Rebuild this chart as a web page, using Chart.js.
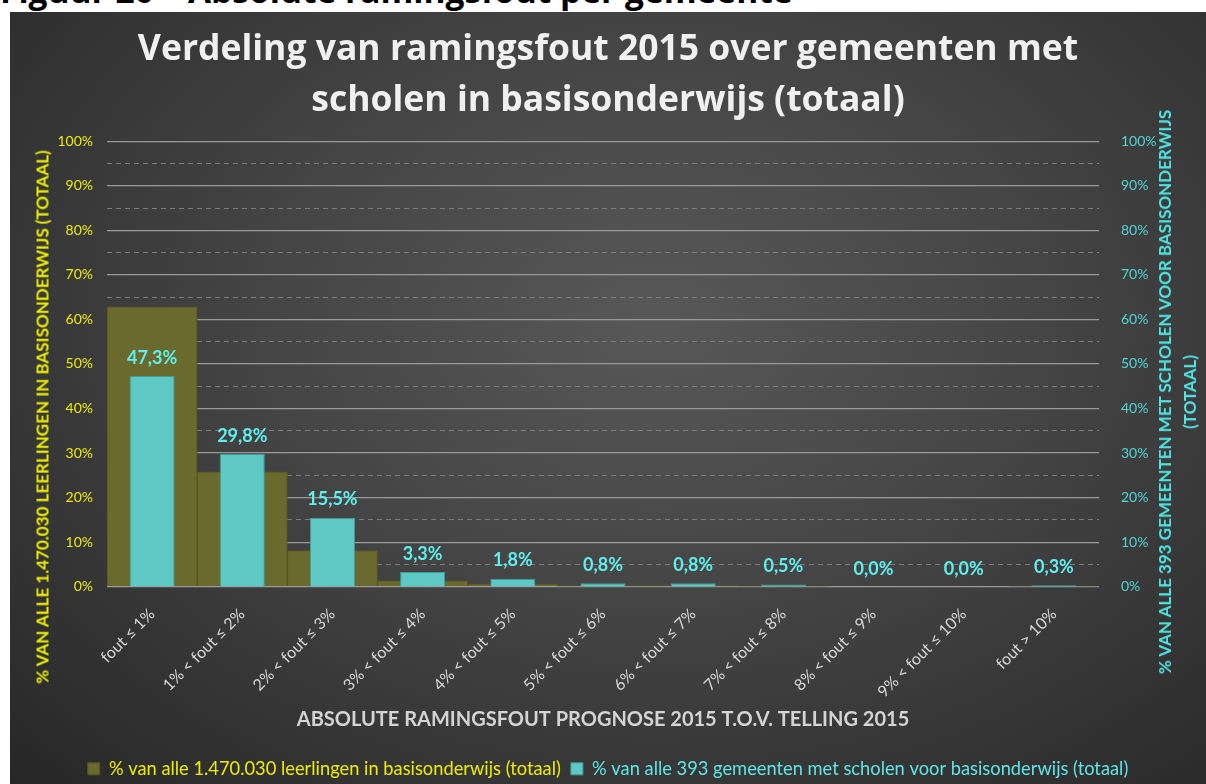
<!DOCTYPE html>
<html>
<head>
<meta charset="utf-8">
<script src="https://cdn.jsdelivr.net/npm/chart.js@4.4.1/dist/chart.umd.min.js"></script>
<style>
  body { margin: 0; background: #fff; width: 1206px; height: 784px; overflow: hidden; position: relative; }
  #fig { position: absolute; left: 0; top: -26px; font: bold 33.5px/33px "Open Sans", sans-serif; color: #000; white-space: nowrap; }
  #panel { position: absolute; left: 10px; top: 12px; width: 1196px; height: 772px; overflow: hidden;
    background: radial-gradient(ellipse farthest-corner at 54% 40%, #585858 0%, #454545 42%, #272727 100%); }
  .axis-title { position: absolute; font: bold 17px/25px Lato, sans-serif; text-align: center; white-space: nowrap;
    transform: translate(-50%, -50%) rotate(-90deg); }
  #ytitle-left { left: 42px; top: 417px; color: #ecec00; }
  #ytitle-right { left: 1177px; top: 392px; color: #4fe3e3; }
</style>
</head>
<body>
<div id="fig">Figuur 20 – Absolute ramingsfout per gemeente</div>
<div id="panel"><canvas id="chart" width="1196" height="772"></canvas></div>
<div class="axis-title" id="ytitle-left">% VAN ALLE 1.470.030 LEERLINGEN IN BASISONDERWIJS (TOTAAL)</div>
<div class="axis-title" id="ytitle-right">% VAN ALLE 393 GEMEENTEN MET SCHOLEN VOOR BASISONDERWIJS<br>(TOTAAL)</div>
<script>
var categories = ['fout ≤ 1%', '1% < fout ≤ 2%', '2% < fout ≤ 3%', '3% < fout ≤ 4%', '4% < fout ≤ 5%',
  '5% < fout ≤ 6%', '6% < fout ≤ 7%', '7% < fout ≤ 8%', '8% < fout ≤ 9%', '9% < fout ≤ 10%', 'fout > 10%'];
// % van alle leerlingen (olive, left axis)
var leerlingen = [62.8, 25.8, 8.1, 1.3, 0.6, 0.2, 0.2, 0.1, 0.0, 0.0, 0.1];
// % van alle gemeenten (cyan, right axis)
var gemeenten = [47.3, 29.8, 15.5, 3.3, 1.8, 0.8, 0.8, 0.5, 0.0, 0.0, 0.3];
var titleLines = ['Verdeling van ramingsfout 2015 over gemeenten met', 'scholen in basisonderwijs (totaal)'];
var legendLabels = ['% van alle 1.470.030 leerlingen in basisonderwijs (totaal)',
  '% van alle 393 gemeenten met scholen voor basisonderwijs (totaal)'];
var legendColors = ['#ecec00', '#5fe6e6'];

function pct(v) { return v.toFixed(1).replace('.', ',') + '%'; }

var valueLabels = {
  id: 'valueLabels',
  afterDatasetsDraw: function(chart) {
    var ctx = chart.ctx;
    var meta = chart.getDatasetMeta(1);
    ctx.save();
    ctx.font = 'bold 18px Lato, sans-serif';
    ctx.fillStyle = '#5ff0ee';
    ctx.textAlign = 'center';
    ctx.textBaseline = 'middle';
    meta.data.forEach(function(bar, i) {
      ctx.fillText(pct(gemeenten[i]), bar.x, bar.y - 18);
    });
    ctx.restore();
  }
};

new Chart(document.getElementById('chart'), {
  type: 'bar',
  data: {
    labels: categories,
    datasets: [{
      label: legendLabels[0],
      data: leerlingen,
      yAxisID: 'y',
      backgroundColor: '#6a692e',
      borderColor: '#57561f',
      borderWidth: 1,
      categoryPercentage: 1,
      barPercentage: 1,
      grouped: false,
      order: 2
    }, {
      label: legendLabels[1],
      data: gemeenten,
      yAxisID: 'y1',
      backgroundColor: '#5ec9c4',
      borderColor: '#3c9d9a',
      borderWidth: 1,
      categoryPercentage: 1,
      barPercentage: 0.5,
      grouped: false,
      order: 1
    }]
  },
  options: {
    responsive: false,
    animation: false,
    layout: { padding: { left: 0, right: 0, top: 0, bottom: -4 } },
    plugins: {
      title: {
        display: true,
        text: titleLines,
        color: '#f0f0f0',
        font: { family: 'Open Sans', size: 35.5, weight: 'bold', lineHeight: 1.44 },
        padding: { top: 12, bottom: 15 }
      },
      legend: {
        position: 'bottom',
        labels: {
          font: { family: 'Lato', size: 18.3 },
          boxWidth: 12,
          boxHeight: 12,
          padding: 10,
          generateLabels: function(chart) {
            var items = Chart.defaults.plugins.legend.labels.generateLabels(chart);
            items.sort(function(a, b) { return a.datasetIndex - b.datasetIndex; });
            items.forEach(function(it) { it.fontColor = legendColors[it.datasetIndex]; });
            return items;
          }
        }
      },
      tooltip: { enabled: false }
    },
    scales: {
      x: {
        grid: { display: false },
        border: { display: false },
        ticks: { color: '#d8d8d8', font: { family: 'Lato', size: 16 }, maxRotation: 45, minRotation: 45, padding: 10 },
        title: { display: true, text: 'ABSOLUTE RAMINGSFOUT PROGNOSE 2015 T.O.V. TELLING 2015', color: '#d4d4d4',
          font: { family: 'Lato', size: 20, weight: 'bold' }, padding: { top: 0, bottom: 18 } },
        afterFit: function(scale) { scale.height = 163; }
      },
      y: {
        position: 'left',
        min: 0, max: 100,
        ticks: { stepSize: 10, color: '#ecec00', font: { family: 'Lato', size: 14 }, padding: 14,
          callback: function(v) { return v + '%'; } },
        grid: { color: '#9a9a9a', lineWidth: 1.2, drawTicks: false },
        border: { display: false },
        afterFit: function(scale) { scale.width = 97; }
      },
      ygrid: {
        position: 'left',
        min: 0, max: 100,
        ticks: { stepSize: 5, display: false },
        grid: { drawTicks: false, lineWidth: 1,
          color: function(c) { return c.tick && c.tick.value % 10 !== 0 ? '#7c7c7c' : 'transparent'; } },
        border: { display: false, dash: [5, 4] },
        afterFit: function(scale) { scale.width = 0; }
      },
      y1: {
        position: 'right',
        min: 0, max: 100,
        ticks: { stepSize: 10, color: '#4fd6d6', font: { family: 'Lato', size: 14 }, padding: 14,
          callback: function(v) { return v + '%'; } },
        grid: { display: false },
        border: { display: false },
        afterFit: function(scale) { scale.width = 107; }
      }
    }
  },
  plugins: [valueLabels]
});
</script>
</body>
</html>
